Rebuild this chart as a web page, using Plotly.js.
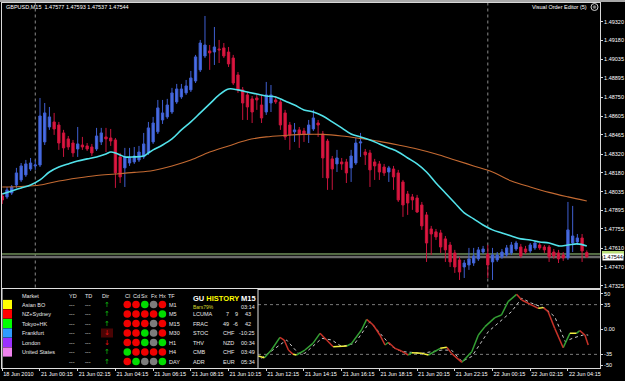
<!DOCTYPE html>
<html><head><meta charset="utf-8">
<script src="https://cdn.plot.ly/plotly-3.0.1.min.js"></script>
<style>html,body{margin:0;padding:0;background:#000;overflow:hidden}#chart{width:625px;height:381px}</style>
</head><body><div id="chart"></div>
<script>
// ---------------- DATA ----------------
const symbolName = 'GBPUSD,M15';
const firstBar = -8; // bar index of first candle (21 Jun 00:15 = bar 0)
const open = [1.48004,1.47997,1.48027,1.48087,1.48125,1.48163,1.48208,1.48231,
1.48238,1.48412,1.48525,1.48563,1.48540,1.48480,1.48435,1.48404,1.48359,1.48389,1.48382,1.48374,1.48359,1.48412,1.48450,1.48442,1.48427,1.48299,1.48216,1.48253,1.48261,1.48276,1.48299,1.48329,1.48412,1.48488,1.48578,1.48601,1.48638,1.48714,1.48752,1.48782,1.48805,1.48872,1.48956,1.49061,1.49099,1.49091,1.49114,1.49122,1.49091,1.49046,1.48918,1.48805,1.48767,1.48737,1.48744,1.48691,1.48638,1.48706,1.48729,1.48714,1.48631,1.48540,1.48488,1.48503,1.48495,1.48472,1.48510,1.48555,1.48472,1.48419,1.48284,1.48246,1.48261,1.48261,1.48216,1.48253,1.48404,1.48336,1.48329,1.48261,1.48246,1.48223,1.48185,1.48208,1.48178,1.48110,1.48019,1.47997,1.47989,1.47936,1.47861,1.47755,1.47733,1.47725,1.47680,1.47634,1.47574,1.47521,1.47468,1.47483,1.47498,1.47529,1.47581,1.47566,1.47506,1.47521,1.47544,1.47559,1.47574,1.47604,1.47619,1.47604,1.47589,1.47612,1.47634,1.47619,1.47619,1.47581,1.47574,1.47559,1.47536,1.47649,1.47657,1.47687,1.47577];
const high = [1.48027,1.48072,1.48087,1.48216,1.48253,1.48276,1.48291,1.48276,
1.48744,1.48706,1.48676,1.48631,1.48563,1.48503,1.48457,1.48427,1.48525,1.48450,1.48404,1.48397,1.48518,1.48518,1.48518,1.48510,1.48442,1.48329,1.48367,1.48367,1.48374,1.48382,1.48480,1.48563,1.48601,1.48729,1.48729,1.48737,1.48820,1.48850,1.48850,1.48880,1.48948,1.49069,1.49182,1.49363,1.49144,1.49280,1.49182,1.49159,1.49129,1.49069,1.48940,1.48827,1.48789,1.48759,1.48774,1.48767,1.48865,1.48842,1.48759,1.48729,1.48654,1.48563,1.48555,1.48525,1.48518,1.48578,1.48654,1.48578,1.48495,1.48435,1.48306,1.48352,1.48291,1.48284,1.48352,1.48442,1.48480,1.48359,1.48352,1.48284,1.48268,1.48246,1.48231,1.48231,1.48201,1.48125,1.48042,1.48019,1.48012,1.47959,1.47883,1.47778,1.47755,1.47748,1.47702,1.47657,1.47597,1.47544,1.47521,1.47612,1.47612,1.47619,1.47627,1.47634,1.47612,1.47581,1.47604,1.47634,1.47657,1.47665,1.47642,1.47627,1.47649,1.47665,1.47649,1.47634,1.47634,1.47604,1.47597,1.47581,1.47959,1.47929,1.47717,1.47717,1.47593];
const low = [1.47944,1.47982,1.48012,1.48065,1.48110,1.48148,1.48193,1.48201,
1.48223,1.48389,1.48503,1.48465,1.48352,1.48299,1.48352,1.48299,1.48299,1.48352,1.48344,1.48306,1.48344,1.48389,1.48336,1.48382,1.48065,1.48102,1.48072,1.48231,1.48246,1.48261,1.48284,1.48314,1.48397,1.48472,1.48548,1.48586,1.48623,1.48699,1.48737,1.48767,1.48789,1.48857,1.48940,1.49046,1.48956,1.48993,1.49008,1.49046,1.48978,1.48842,1.48782,1.48578,1.48578,1.48555,1.48654,1.48555,1.48616,1.48638,1.48699,1.48503,1.48427,1.48352,1.48412,1.48367,1.48412,1.48404,1.48495,1.48450,1.48140,1.48050,1.48050,1.48185,1.48201,1.48102,1.48110,1.48238,1.48299,1.48238,1.48072,1.48125,1.48125,1.48155,1.48110,1.48050,1.47959,1.47846,1.47861,1.47899,1.47876,1.47748,1.47506,1.47559,1.47672,1.47574,1.47506,1.47468,1.47423,1.47370,1.47385,1.47446,1.47476,1.47514,1.47566,1.47385,1.47370,1.47506,1.47529,1.47544,1.47559,1.47589,1.47536,1.47566,1.47574,1.47597,1.47597,1.47574,1.47506,1.47529,1.47498,1.47514,1.47521,1.47581,1.47634,1.47506,1.47537];
const close = [1.47974,1.48050,1.48072,1.48178,1.48231,1.48246,1.48253,1.48238,
1.48608,1.48631,1.48601,1.48510,1.48404,1.48367,1.48374,1.48329,1.48397,1.48374,1.48359,1.48329,1.48457,1.48480,1.48435,1.48419,1.48178,1.48148,1.48299,1.48291,1.48306,1.48336,1.48397,1.48518,1.48555,1.48669,1.48631,1.48691,1.48782,1.48812,1.48812,1.48835,1.48895,1.49054,1.49159,1.49144,1.49084,1.49129,1.49107,1.49061,1.49001,1.48857,1.48805,1.48706,1.48676,1.48638,1.48729,1.48593,1.48767,1.48767,1.48714,1.48540,1.48450,1.48465,1.48503,1.48472,1.48472,1.48540,1.48593,1.48540,1.48291,1.48140,1.48208,1.48291,1.48246,1.48178,1.48306,1.48404,1.48412,1.48314,1.48201,1.48231,1.48185,1.48178,1.48216,1.48148,1.47974,1.47936,1.47951,1.47974,1.47883,1.47778,1.47649,1.47717,1.47695,1.47619,1.47597,1.47506,1.47468,1.47430,1.47498,1.47529,1.47551,1.47597,1.47604,1.47483,1.47559,1.47559,1.47581,1.47612,1.47634,1.47649,1.47551,1.47581,1.47634,1.47649,1.47612,1.47597,1.47544,1.47551,1.47529,1.47536,1.47748,1.47702,1.47687,1.47589,1.47544];

const maFastBars = [-8,-6,-4,-2,0,2,4,6,8,10,12,14,15,16,17,18,20,22,23,24,26,28,30,32,34,36,38,40,42,44,46,48,50,52,54,56,58,60,62,64,66,68,70,72,74,76,78,80,82,84,86,88,90,92,94,96,98,100,102,104,106,108,110,112,114,116];
const maFast = [1.48019,1.48042,1.48065,1.48087,1.48125,1.48185,1.48223,1.48246,1.48268,1.48284,1.48299,1.48321,1.48336,1.48329,1.48314,1.48299,1.48299,1.48306,1.48329,1.48352,1.48389,1.48435,1.48503,1.48563,1.48631,1.48699,1.48767,1.48812,1.48805,1.48789,1.48774,1.48759,1.48752,1.48721,1.48691,1.48654,1.48638,1.48608,1.48563,1.48518,1.48472,1.48450,1.48427,1.48397,1.48367,1.48336,1.48291,1.48246,1.48185,1.48102,1.48027,1.47951,1.47876,1.47831,1.47785,1.47748,1.47725,1.47702,1.47680,1.47672,1.47657,1.47649,1.47627,1.47634,1.47642,1.47627];
const maSlowBars = [-8,-4,0,4,8,12,16,20,24,28,32,36,40,44,48,52,56,60,64,68,72,76,80,84,88,92,96,100,104,108,112,116];
const maSlow = [1.48072,1.48076,1.48087,1.48117,1.48140,1.48159,1.48170,1.48182,1.48197,1.48231,1.48276,1.48336,1.48382,1.48427,1.48450,1.48461,1.48469,1.48469,1.48457,1.48438,1.48416,1.48389,1.48359,1.48321,1.48276,1.48231,1.48185,1.48117,1.48072,1.48031,1.47997,1.47966];

const bidPrice = 1.47544;
const askPrice = 1.47566;
const daySeparatorBars = [-1, 95];
const priceTicks = [1.49320,1.49180,1.49035,1.48895,1.48750,1.48605,1.48465,1.48320,1.48180,1.48035,1.47895,1.47755,1.47610,1.47470,1.47325];
const timeTickBars = [-8,0,8,16,24,32,40,48,56,64,72,80,88,96,104,112];
const timeTickLabels = ['18 Jun 2010','21 Jun 00:15','21 Jun 02:15','21 Jun 04:15','21 Jun 06:15','21 Jun 08:15','21 Jun 10:15','21 Jun 12:15','21 Jun 14:15','21 Jun 16:15','21 Jun 18:15','21 Jun 20:15','21 Jun 22:15','22 Jun 00:15','22 Jun 02:15','22 Jun 04:15'];

const oscBars = [46.3,47.6,49.1,50.9,51.8,52.7,53.7,54.4,56.2,57.9,59.4,60.8,62.2,65.1,66.1,68.2,69.3,70.7,72.1,73.2,73.9,75.3,76.7,78.1,78.9,81,82.4,84.9,86.3,87.3,89.5,91.6,93,94.4,96.5,97.9,99.3,101.1,102.2,105.7,106.8,107.8,109.2,111,112.4,113.8,114.5,115.6,116.3];
const oscMain = [-37.3,-39.7,-28.9,-11,-14.8,-28.9,-35,-35.9,-28.9,-19.5,-5.4,-14.8,-24.2,-23.2,-19.5,-0.7,14.3,6.3,-7.7,-21.8,-18,-26.5,-30.3,-35.9,-32.6,-33.6,-35.9,-26.5,-25.1,-33.6,-46.2,-31.2,-7.7,4,16.7,20.4,39.2,49.5,41.5,29.8,30.8,25.1,1.6,-25.6,-5.4,-5.4,-1.6,-7.7,-21.8];
const sigBars = [47,49,52.3,54.8,56.2,59.8,61.9,64,66.8,70,72.5,74.6,76.7,81,85.2,87.3,89.5,91.6,95.1,98,100,102.2,104.3,107.1,109.2,111.4,113.1,115.6,116.3];
const sigVals = [-40.6,-31,-14.8,-33.5,-33.5,-12.4,-14.8,-24,-19.5,11,-7.7,-24,-31,-33.5,-29,-29,-45,-38,-3,13,25,44,37,30,18,-17,-12,-7,-8];
const oscTicks = [50,35,0,-35,-50];
const oscTickLabels = ['50','35','0.00','-35','-50'];
const oscLevels = [35,-35];

// dashboard table
const markets = ['Asian BO','NZ+Sydney','Tokyo+HK','Frankfurt','London','United States',''];
const marketColors = ['#ffff00','#ff0000','#00ff00','#2f9cff','#9b30ff','#ee82ee'];
const timeframes = ['M1','M5','M15','M30','H1','H4','DAY'];
const directions = ['up','up','up','down','down','up','up'];
const signalHeaders = ['Cl','Cd','Sx','Fx','Hx'];
const signalGrid = [
  ['r','r','g','n','r'],
  ['r','r','r','r','g'],
  ['r','r','r','n','r'],
  ['r','r','g','n','r'],
  ['r','r','g','n','g'],
  ['g','r','r','r','r'],
  ['r','g','n','n','g']];
const historyTitle = 'GU HISTORY';
const historyTf = 'M15';
const historyBars = 'Bars79%';
const historyClock = '03:14';
const histLabels = ['LCUMA','FRAC','STOC','THV','CMB','ADR'];
const histCol2 = ['7','49','CHF','NZD','CHF','EUR'];
const histCol3 = ['9','-6','','','',''];
const histCol4 = ['43','42','-10:25','00:34','03:49','05:34'];

// ---------------- BUILD ----------------
const W = 625, H = 381, ML = 2, MR = 25, MT = 3, MB = 13;
const PW = W - ML - MR, PH = H - MT - MB;
const PX = x => (x - ML) / PW;
const PY = y => (H - MB - y) / PH;
const F = '"Liberation Sans Narrow", "Liberation Sans", Arial, sans-serif';
const FS = 5.5;
const bars = open.map((_, k) => k + firstBar);
const last = open.length - 1;

const traces = [];
traces.push({type:'candlestick', x:bars, open, high, low, close, xaxis:'x', yaxis:'y',
  increasing:{line:{color:'#3f5fd0', width:1}, fillcolor:'#4a6fe6'},
  decreasing:{line:{color:'#c8143c', width:1}, fillcolor:'#e0173f'},
  whiskerwidth:0, hoverinfo:'skip', showlegend:false});
traces.push({type:'scatter', mode:'lines', x:maSlowBars, y:maSlow, xaxis:'x', yaxis:'y',
  line:{color:'#c46a32', width:1.1, shape:'spline'}, hoverinfo:'skip', showlegend:false});
traces.push({type:'scatter', mode:'lines', x:maFastBars, y:maFast, xaxis:'x', yaxis:'y',
  line:{color:'#52e2ea', width:1.6, shape:'spline'}, hoverinfo:'skip', showlegend:false});

// oscillator: colour by direction of each segment
const segCols = {green:'#34a034', red:'#c83228', yellow:'#f4f040'};
const segData = {green:{x:[],y:[]}, red:{x:[],y:[]}, yellow:{x:[],y:[]}};
for (let k = 0; k < oscBars.length - 1; k++) {
  const s = (oscMain[k+1] - oscMain[k]) / (oscBars[k+1] - oscBars[k]);
  const c = Math.abs(s) < 2.5 ? 'yellow' : (s > 0 ? 'green' : 'red');
  segData[c].x.push(oscBars[k], oscBars[k+1], null);
  segData[c].y.push(oscMain[k], oscMain[k+1], null);
}
traces.push({type:'scatter', mode:'lines', x:sigBars, y:sigVals, xaxis:'x2', yaxis:'y2',
  line:{color:'#c8c8c8', width:1, dash:'dot'}, hoverinfo:'skip', showlegend:false});
for (const c of ['green','red','yellow']) {
  traces.push({type:'scatter', mode:'lines', x:segData[c].x, y:segData[c].y, xaxis:'x2', yaxis:'y2',
    line:{color:segCols[c], width:1.5}, connectgaps:false, hoverinfo:'skip', showlegend:false});
}

const mainBottom = PY(287.5), lowTop = PY(289.5);
const shapes = [];
const ann = [];
// window frame strip at top
shapes.push({type:'rect', xref:'paper', yref:'paper', x0:-0.01, x1:1.05, y0:PY(2), y1:PY(0), fillcolor:'#a8a8a8', line:{width:0}, layer:'above'});
// day separators
daySeparatorBars.forEach(b => shapes.push({type:'line', xref:'x', yref:'paper', x0:b, x1:b, y0:mainBottom, y1:1,
  line:{color:'#8a8a8a', width:1, dash:'dot'}, layer:'below'}));
// ask / bid lines
shapes.push({type:'line', xref:'paper', yref:'y', x0:0, x1:1, y0:askPrice, y1:askPrice, line:{color:'#a6d486', width:1}, layer:'below'});
shapes.push({type:'line', xref:'paper', yref:'y', x0:0, x1:1, y0:bidPrice, y1:bidPrice, line:{color:'#6a6a6a', width:2.5}, layer:'below'});
// ask marker on axis
shapes.push({type:'rect', xref:'paper', yref:'y', x0:PX(602), x1:PX(624), y0:askPrice-0.00016, y1:askPrice+0.00022, fillcolor:'#b9dc78', line:{width:0}, layer:'above'});
ann.push({xref:'paper', yref:'y', x:PX(602), y:bidPrice, xanchor:'left', yanchor:'middle', text:bidPrice.toFixed(5),
  showarrow:false, bgcolor:'#ffffff', borderpad:0, font:{family:F, size:FS, color:'#000'}});
// oscillator levels
oscLevels.forEach(v => shapes.push({type:'line', xref:'paper', yref:'y2', x0:PX(258), x1:1, y0:v, y1:v,
  line:{color:'#7a7a7a', width:1, dash:'dot'}, layer:'below'}));

// header texts
ann.push({xref:'paper', yref:'paper', x:PX(5), y:PY(7), xanchor:'left', yanchor:'middle', showarrow:false, borderpad:0,
  text: symbolName + '  ' + [open[last], high[last], low[last], close[last]].map(v => v.toFixed(5)).join(' '),
  font:{family:F, size:FS, color:'#ffffff'}});
ann.push({xref:'paper', yref:'paper', x:PX(588), y:PY(7), xanchor:'right', yanchor:'middle', showarrow:false, borderpad:0,
  text:'Visual Order Editor (5)', font:{family:F, size:FS, color:'#ffffff'}});
shapes.push({type:'circle', xref:'paper', yref:'paper', x0:PX(591), x1:PX(598), y0:PY(10.5), y1:PY(3.5), line:{color:'#d0d0d0', width:1}, layer:'above'});
shapes.push({type:'circle', xref:'paper', yref:'paper', x0:PX(593), x1:PX(596), y0:PY(8.5), y1:PY(5.5), fillcolor:'#808080', line:{color:'#808080', width:0.5}, layer:'above'});

// dashboard table
shapes.push({type:'rect', xref:'paper', yref:'paper', x0:PX(2), x1:PX(258), y0:PY(368.5), y1:PY(288.5), fillcolor:'#000', line:{color:'#e0e0e0', width:1}, layer:'above'});
const t = (x, y, text, o) => Object.assign({xref:'paper', yref:'paper', x:PX(x), y:PY(y), text, showarrow:false,
  xanchor:'left', yanchor:'middle', borderpad:0, font:{family:F, size:FS, color:'#e8e8e8'}}, o || {});
const rowY = [304.5, 314, 323.5, 333, 342.5, 352, 361.5];
const headY = 296;
ann.push(t(21, headY, 'Market'), t(68, headY, 'YD'), t(84, headY, 'TD'), t(101, headY, 'Dir'), t(167, headY, 'TF'));
const dotX = [127.3, 136, 144.8, 153.6, 162.4];
signalHeaders.forEach((h, k) => ann.push(t(dotX[k], headY, h, {xanchor:'center'})));
marketColors.forEach((c, r) => shapes.push({type:'rect', xref:'paper', yref:'paper', x0:PX(3), x1:PX(12),
  y0:PY(rowY[r] + 4.6), y1:PY(rowY[r] - 4.6), fillcolor:c, line:{width:0}, layer:'above'}));
const dotCol = {r:'#f00000', g:'#00dd00', n:'#7c7c7c'};
markets.forEach((m, r) => {
  if (m) ann.push(t(21, rowY[r], m));
  ann.push(t(68, rowY[r], '---'), t(84, rowY[r], '---'));
  const up = directions[r] === 'up';
  if (r === 3) shapes.push({type:'rect', xref:'paper', yref:'paper', x0:PX(101), x1:PX(113), y0:PY(rowY[r]+4.5), y1:PY(rowY[r]-4.5),
    fillcolor:'#4a0404', line:{width:0}, layer:'above'});
  ann.push(t(107, rowY[r], up ? '\u2191' : '\u2193', {xanchor:'center', font:{family:'DejaVu Sans', size:7, color: up ? '#10c010' : '#e01010'}}));
  signalGrid[r].forEach((s, k) => shapes.push({type:'circle', xref:'paper', yref:'paper',
    x0:PX(dotX[k]-3.8), x1:PX(dotX[k]+3.8), y0:PY(rowY[r]+3.8), y1:PY(rowY[r]-3.8), fillcolor:dotCol[s], line:{width:0}, layer:'above'}));
  ann.push(t(167.5, rowY[r], timeframes[r]));
});
// history block
ann.push(t(192, 298.5, 'GU <span style="color:#ffff00">HISTORY</span>', {font:{family:'"Liberation Sans", Arial, sans-serif', size:7.5, color:'#ffffff', weight:'bold'}}));
ann.push(t(239.5, 298.5, historyTf, {font:{family:'"Liberation Sans", Arial, sans-serif', size:7.5, color:'#ffffff', weight:'bold'}}));
ann.push(t(192, 307, historyBars, {font:{family:F, size:5, color:'#d8d830'}}));
ann.push(t(256, 307, historyClock, {xanchor:'right'}));
histLabels.forEach((h, r) => {
  const y = rowY[r + 1];
  ann.push(t(192, y, h));
  if (histCol3[r]) {
    ann.push(t(230, y, histCol2[r], {xanchor:'right'}), t(239, y, histCol3[r], {xanchor:'right'}), t(252, y, histCol4[r], {xanchor:'right'}));
  } else {
    ann.push(t(222, y, histCol2[r]), t(256, y, histCol4[r], {xanchor:'right'}));
  }
});

const axCommon = {showgrid:false, zeroline:false, fixedrange:true, showline:true, mirror:true, linecolor:'#d8d8d8', linewidth:1};
const layout = {
  width:W, height:H, margin:{l:ML, r:MR, t:MT, b:MB, pad:0},
  paper_bgcolor:'#000', plot_bgcolor:'#000', showlegend:false,
  font:{family:F, size:FS, color:'#ffffff'},
  xaxis: Object.assign({}, axCommon, {range:[-8.06, 118.8], anchor:'y', showticklabels:false, ticks:'', rangeslider:{visible:false}}),
  yaxis: Object.assign({}, axCommon, {domain:[mainBottom, 1], range:[1.47313, 1.49461], side:'right', anchor:'x',
    tickvals:priceTicks, ticktext:priceTicks.map(v => v.toFixed(5)), ticks:'outside', ticklen:2, tickcolor:'#d8d8d8',
    ticklabelstandoff:0, tickfont:{family:F, size:FS, color:'#ffffff'}}),
  xaxis2: Object.assign({}, axCommon, {range:[-8.06, 118.8], anchor:'y2', tickvals:timeTickBars, ticktext:timeTickLabels,
    ticks:'outside', ticklen:2, tickcolor:'#d8d8d8', ticklabelposition:'outside right', tickangle:0,
    ticklabelstandoff:0, tickfont:{family:F, size:FS, color:'#ffffff'}}),
  yaxis2: Object.assign({}, axCommon, {domain:[0, lowTop], range:[-54.2, 56.3], side:'right', anchor:'x2',
    tickvals:oscTicks, ticktext:oscTickLabels, ticks:'outside', ticklen:2, tickcolor:'#d8d8d8',
    ticklabelstandoff:0, tickfont:{family:F, size:FS, color:'#ffffff'}}),
  shapes, annotations:ann
};
Plotly.newPlot('chart', traces, layout, {staticPlot:true, displayModeBar:false});
</script></body></html>
